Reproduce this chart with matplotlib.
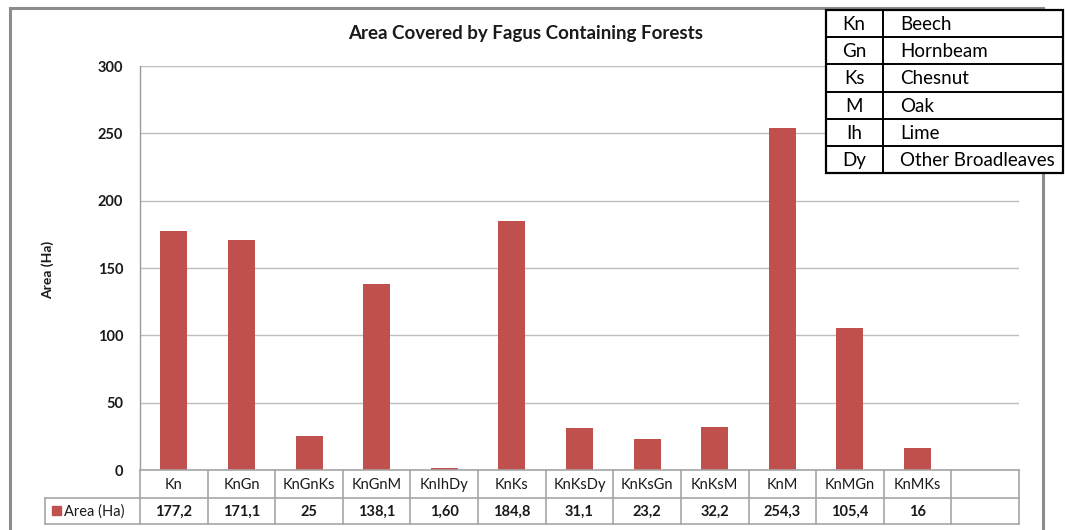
import matplotlib
matplotlib.use("Agg")
import matplotlib.pyplot as plt
from matplotlib.lines import Line2D
from matplotlib.patches import Rectangle
import matplotlib.transforms as mtransforms

categories = ["Kn", "KnGn", "KnGnKs", "KnGnM", "KnIhDy", "KnKs", "KnKsDy",
              "KnKsGn", "KnKsM", "KnM", "KnMGn", "KnMKs", ""]
values = [177.2, 171.1, 25, 138.1, 1.6, 184.8, 31.1, 23.2, 32.2, 254.3, 105.4, 16, None]
value_labels = ["177,2", "171,1", "25", "138,1", "1,60", "184,8", "31,1",
                "23,2", "32,2", "254,3", "105,4", "16", ""]
series_name = "Area (Ha)"
title = "Area Covered by Fagus Containing Forests"
yticks = [0, 50, 100, 150, 200, 250, 300]
legend_codes = ["Kn", "Gn", "Ks", "M", "Ih", "Dy"]
legend_names = ["Beech", "Hornbeam", "Chesnut", "Oak", "Lime", "Other Broadleaves"]

plt.rcParams['font.family'] = ['Lato', 'DejaVu Sans']

W, H = 1065, 530
fig = plt.figure(figsize=(W / 100, H / 100), dpi=100)
BAR = "#C0504D"
TXT = "#1a1a1a"

def fy(y):
    return 1 - y / H

def fx(x):
    return x / W

# outer chart frame
for xs, ys in [([10, 10], [8, 540]), ([10, 1043], [8, 8]), ([1043, 1043], [8, 540])]:
    fig.add_artist(Line2D([fx(x) for x in xs], [fy(y) for y in ys],
                          color="#8c8c8c", lw=2.2, transform=fig.transFigure))

left, right, top, bottom = 140, 1019, 66, 470
ax = fig.add_axes([fx(left), fy(bottom), fx(right) - fx(left), fy(top) - fy(bottom)])
n = len(categories)
xs = list(range(n))
bar_x = [i for i, v in zip(xs, values) if v is not None]
bar_v = [v for v in values if v is not None]
ax.bar(bar_x, bar_v, width=0.4, color=BAR, zorder=3)
ax.set_xlim(-0.5, n - 0.5)
ax.set_ylim(0, 300)
ax.set_yticks(yticks)
ax.set_yticklabels([str(t) for t in yticks], fontsize=10.5, fontweight='bold', color=TXT)
ax.tick_params(axis='y', length=0, pad=12)
ax.set_xticks([])
ax.grid(axis='y', color="#bdbdbd", lw=1.0, zorder=0)
for s in ["top", "right", "bottom"]:
    ax.spines[s].set_visible(False)
ax.spines["left"].set_color("#9a9a9a")
ax.spines["left"].set_linewidth(1.0)
fig.text(fx(48), fy(270), "Area (Ha)", rotation=90, ha='center', va='center',
         fontsize=10, fontweight='bold', color=TXT)

fig.text(fx(526), fy(33), title, ha='center', va='center', fontsize=13.5, fontweight='bold', color=TXT)

# data table beneath axes
tcol = "#a6a6a6"
row1_top, row1_bot, row2_bot = 470, 498, 524
trans = mtransforms.blended_transform_factory(ax.transData, fig.transFigure)
for yy, x0 in [(row1_top, left), (row1_bot, 45), (row2_bot, 45)]:
    fig.add_artist(Line2D([fx(x0), fx(right)], [fy(yy), fy(yy)], color=tcol, lw=1.2,
                          transform=fig.transFigure))
for i in range(n + 1):
    xb = i - 0.5
    fig.add_artist(Line2D([xb, xb], [fy(row1_top), fy(row2_bot)], color=tcol, lw=1.2,
                          transform=trans))
fig.add_artist(Line2D([fx(45), fx(45)], [fy(row1_bot), fy(row2_bot)], color=tcol, lw=1.2,
                      transform=fig.transFigure))
for i, (c, vl) in enumerate(zip(categories, value_labels)):
    ax.text(i, fy((row1_top + row1_bot) / 2 + 1), c, transform=trans, ha='center', va='center',
            fontsize=10.5, color=TXT)
    ax.text(i, fy((row1_bot + row2_bot) / 2 + 1), vl, transform=trans, ha='center', va='center',
            fontsize=10.5, fontweight='bold', color=TXT)
fig.add_artist(Rectangle((fx(52), fy(515)), fx(9), fy(506) - fy(515), color=BAR,
                         transform=fig.transFigure))
fig.text(fx(64), fy(511.5), series_name, ha='left', va='center', fontsize=10.5, color=TXT)

# abbreviation legend table at top right
lx0, lx1, lx2 = 826, 883, 1063
ly0, rh = 10, 27.2
nrow = len(legend_codes)
fig.add_artist(Rectangle((fx(lx0), fy(ly0 + nrow * rh)), fx(lx2) - fx(lx0), fy(ly0) - fy(ly0 + nrow * rh),
                         facecolor="white", edgecolor="black", lw=1.6, transform=fig.transFigure,
                         zorder=5))
for r in range(1, nrow):
    yy = ly0 + r * rh
    fig.add_artist(Line2D([fx(lx0), fx(lx2)], [fy(yy), fy(yy)], color="black", lw=1.4,
                          transform=fig.transFigure, zorder=6))
fig.add_artist(Line2D([fx(lx1), fx(lx1)], [fy(ly0), fy(ly0 + nrow * rh)], color="black", lw=1.4,
                      transform=fig.transFigure, zorder=6))
for r, (cd, nm) in enumerate(zip(legend_codes, legend_names)):
    yc = ly0 + (r + 0.5) * rh + 1
    fig.text(fx(854), fy(yc), cd, ha='center', va='center', fontsize=13.5, zorder=7)
    fig.text(fx(900), fy(yc), nm, ha='left', va='center', fontsize=13.5, zorder=7)

fig.savefig("out.png", dpi=100)
